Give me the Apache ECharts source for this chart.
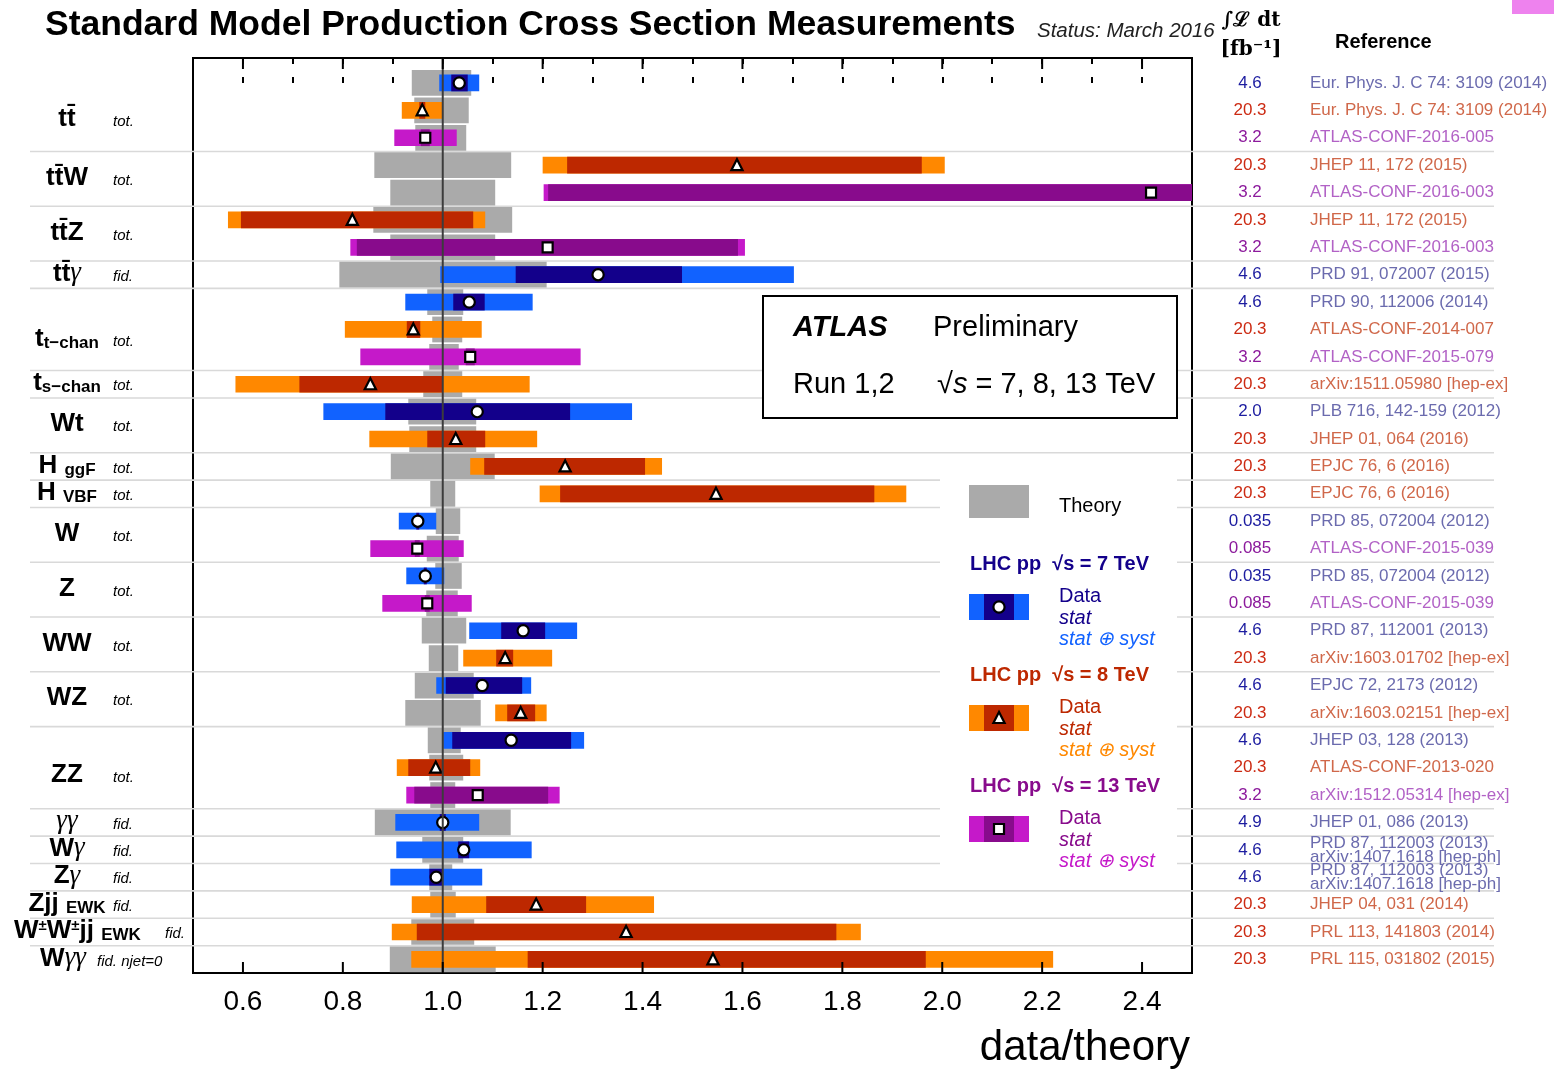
<!DOCTYPE html>
<html><head><meta charset="utf-8">
<script src="https://cdn.jsdelivr.net/npm/echarts@6/dist/echarts.min.js"></script>
<style>html,body{margin:0;padding:0;background:#fff}#c{width:1554px;height:1070px}</style>
</head><body><div id="c"></div>
<script>
// ---------------- DATA ----------------
const rowEnergy = [7,8,13,8,13,8,13,7,7,8,13,8,7,8,8,8,7,13,7,13,7,8,7,8,7,8,13,7,7,7,8,8,8];
const rowCentral = [1.033,0.959,0.965,1.589,2.418,0.819,1.210,1.311,1.053,0.941,1.055,0.855,1.069,1.026,1.245,1.547,0.950,0.949,0.965,0.969,1.161,1.125,1.079,1.156,1.137,0.986,1.070,1.000,1.042,0.987,1.187,1.367,1.541];
const rowTotLo = [0.993,0.918,0.903,1.200,1.202,0.570,0.815,0.995,0.925,0.804,0.835,0.585,0.761,0.853,1.055,1.194,0.912,0.855,0.927,0.879,1.053,1.041,0.987,1.105,1.001,0.908,0.927,0.905,0.907,0.895,0.938,0.898,0.937];
const rowTotHi = [1.073,0.999,1.028,2.005,2.640,1.085,1.605,1.703,1.180,1.078,1.276,1.174,1.379,1.189,1.439,1.928,0.987,1.042,1.003,1.058,1.269,1.219,1.177,1.208,1.283,1.075,1.234,1.073,1.178,1.079,1.423,1.837,2.222];
const rowStatLo = [1.017,0.953,0.956,1.249,1.211,0.596,0.828,1.146,1.021,0.928,1.046,0.713,0.885,0.969,1.083,1.235,0.947,0.944,0.962,0.964,1.117,1.107,1.006,1.129,1.019,0.931,0.943,0.994,1.031,0.973,1.087,0.948,1.170];
const rowStatHi = [1.050,0.965,0.974,1.959,2.600,1.061,1.591,1.479,1.084,0.955,1.064,0.999,1.255,1.085,1.405,1.864,0.953,0.954,0.968,0.974,1.205,1.141,1.159,1.185,1.257,1.055,1.211,1.006,1.053,0.999,1.287,1.788,1.967];
const rowTheoryLo = [0.938,0.943,0.945,0.863,0.895,0.861,0.895,0.793,0.969,0.979,0.973,0.961,0.931,0.933,0.896,0.975,0.986,0.968,0.985,0.967,0.958,0.972,0.944,0.925,0.970,0.973,0.975,0.864,0.959,0.973,0.975,0.937,0.894];
const rowTheoryHi = [1.057,1.052,1.047,1.137,1.105,1.139,1.105,1.208,1.041,1.039,1.032,1.039,1.067,1.067,1.104,1.025,1.035,1.032,1.038,1.030,1.047,1.031,1.062,1.076,1.036,1.041,1.025,1.136,1.041,1.019,1.026,1.063,1.106];
const rowLumi = ['4.6','20.3','3.2','20.3','3.2','20.3','3.2','4.6','4.6','20.3','3.2','20.3','2.0','20.3','20.3','20.3','0.035','0.085','0.035','0.085','4.6','20.3','4.6','20.3','4.6','20.3','3.2','4.9','4.6','4.6','20.3','20.3','20.3'];
const rowRef = ['Eur. Phys. J. C 74: 3109 (2014)','Eur. Phys. J. C 74: 3109 (2014)','ATLAS-CONF-2016-005','JHEP 11, 172 (2015)','ATLAS-CONF-2016-003','JHEP 11, 172 (2015)','ATLAS-CONF-2016-003','PRD 91, 072007 (2015)','PRD 90, 112006 (2014)','ATLAS-CONF-2014-007','ATLAS-CONF-2015-079','arXiv:1511.05980 [hep-ex]','PLB 716, 142-159 (2012)','JHEP 01, 064 (2016)','EPJC 76, 6 (2016)','EPJC 76, 6 (2016)','PRD 85, 072004 (2012)','ATLAS-CONF-2015-039','PRD 85, 072004 (2012)','ATLAS-CONF-2015-039','PRD 87, 112001 (2013)','arXiv:1603.01702 [hep-ex]','EPJC 72, 2173 (2012)','arXiv:1603.02151 [hep-ex]','JHEP 03, 128 (2013)','ATLAS-CONF-2013-020','arXiv:1512.05314 [hep-ex]','JHEP 01, 086 (2013)','PRD 87, 112003 (2013)\narXiv:1407.1618 [hep-ph]','PRD 87, 112003 (2013)\narXiv:1407.1618 [hep-ph]','JHEP 04, 031 (2014)','PRL 113, 141803 (2014)','PRL 115, 031802 (2015)'];

const groupLabel = ['{m|tt\u0304}','{m|tt\u0304W}','{m|tt\u0304Z}','{m|tt\u0304}{g|γ}','{m|t}{s|t\u2212chan}','{m|t}{s|s\u2212chan}','{m|Wt}','{m|H }{s|ggF}','{m|H }{s|VBF}','{m|W}','{m|Z}','{m|WW}','{m|WZ}','{m|ZZ}','{g|γγ}','{m|W}{g|γ}','{m|Z}{g|γ}','{m|Zjj }{s|EWK}','{m|W}{p|±}{m|W}{p|±}{m|jj }{s|EWK}','{m|W}{g|γγ}'];
const groupQualifier = ['tot.','tot.','tot.','fid.','tot.','tot.','tot.','tot.','tot.','tot.','tot.','tot.','tot.','tot.','fid.','fid.','fid.','fid.','fid.','fid. njet=0'];
const groupFirst = [0,3,5,7,8,11,12,14,15,16,18,20,22,24,27,28,29,30,31,32];
const groupLast  = [2,4,6,7,10,11,13,14,15,17,19,21,23,26,27,28,29,30,31,32];

const xTickValues = [0.6,0.8,1.0,1.2,1.4,1.6,1.8,2.0,2.2,2.4];

// ---------------- STYLE / LAYOUT ----------------
const FONT = 'Liberation Sans, Arial, Helvetica, sans-serif';
const COL = {
  7:  {outer:'#1162ff', inner:'#13008b', lumi:'#1c1ca0', ref:'#6b6bae', head:'#13008b'},
  8:  {outer:'#ff8800', inner:'#bd2800', lumi:'#cc2a12', ref:'#d0684a', head:'#bd2800'},
  13: {outer:'#c519c9', inner:'#880b8c', lumi:'#8c1a9c', ref:'#b262c6', head:'#880b8c'}
};
const LABEL_NUDGE = {0:8, 4:9, 13:7};
const LABEL_LEFT = {18:14};
const LABEL_CENTER_X = {19:63};
const QUAL_X = {18:165, 19:97};

function marker(e, cx, cy) {
  const st = {fill:'#fff', stroke:'#000', lineWidth:2.2};
  if (e === 7) return {type:'circle', shape:{cx, cy, r:5.6}, style:st};
  if (e === 8) return {type:'polygon', shape:{points:[[cx, cy-6],[cx-5.6, cy+5],[cx+5.6, cy+5]]}, style:st};
  return {type:'rect', shape:{x:cx-5, y:cy-5, width:10, height:10}, style:st};
}

const rowIdx = rowEnergy.map((e,i)=>[rowCentral[i], i]);
const sepRows = groupLast.slice(0, -1).map(r => [1, r + 0.5]);
const groupData = groupFirst.map((f,g)=>[1, (f + groupLast[g]) / 2]);

const chart = echarts.init(document.getElementById('c'), null, {renderer:'canvas'});

const xAxisBase = {
  type:'value', min:0.5, max:2.5, interval:0.1, gridIndex:0,
  axisLine:{show:false}, splitLine:{show:false},
  axisTick:{show:true, inside:true, length:6, lineStyle:{color:'#000', width:2}}
};

const option = {
  animation:false,
  backgroundColor:'#fff',
  grid:{left:193, right:362, top:58, bottom:97, show:true, borderColor:'#000', borderWidth:2, backgroundColor:'transparent'},
  xAxis:[
    Object.assign({}, xAxisBase, {position:'bottom',
      axisLabel:{show:true, margin:15, fontSize:28, color:'#000', fontFamily:FONT,
        formatter:v=>{const t=Math.round(v*10); return (t%2===0 && t>5 && t<25) ? (t/10).toFixed(1) : '';}}}),
    Object.assign({}, xAxisBase, {position:'top', axisLabel:{show:false}})
  ],
  yAxis:{type:'value', min:-0.912, max:32.497, inverse:true, show:false},
  series:[
    { // separator lines
      type:'custom', z:1, clip:false, silent:true,
      data:sepRows, encode:{x:0, y:1},
      renderItem:(params, api)=>{
        const y = api.coord([1, api.value(1)])[1];
        return {type:'line', shape:{x1:30, y1:y, x2:1494, y2:y}, style:{stroke:'#d9d9d9', lineWidth:1.6}};
      }
    },
    { // theory bands
      type:'custom', z:2, clip:true, silent:true,
      data:rowIdx, encode:{x:0, y:1},
      renderItem:(params, api)=>{
        const i = params.dataIndex;
        const y = api.coord([1, i])[1];
        const h = api.size([0, 0.94])[1];
        const x0 = api.coord([rowTheoryLo[i], i])[0], x1 = api.coord([rowTheoryHi[i], i])[0];
        return {type:'rect', shape:{x:x0, y:y-h/2, width:x1-x0, height:h}, style:{fill:'#aaaaaa'}};
      }
    },
    { // data bars + markers
      type:'custom', z:3, clip:true, silent:true,
      data:rowIdx, encode:{x:0, y:1},
      renderItem:(params, api)=>{
        const i = params.dataIndex;
        const e = rowEnergy[i];
        const c = COL[e];
        const y = api.coord([1, i])[1];
        const h = api.size([0, 0.61])[1];
        const rect = (lo, hi, fill) => {
          const x0 = api.coord([lo, i])[0], x1 = api.coord([hi, i])[0];
          return {type:'rect', shape:{x:x0, y:y-h/2, width:x1-x0, height:h}, style:{fill}};
        };
        return {type:'group', children:[
          rect(rowTotLo[i], rowTotHi[i], c.outer),
          rect(rowStatLo[i], rowStatHi[i], c.inner),
          marker(e, api.coord([rowCentral[i], i])[0], y)
        ]};
      }
    },
    { // unity line
      type:'custom', z:5, clip:false, silent:true,
      data:[[1, 0]], encode:{x:0, y:1},
      renderItem:(params, api)=>{
        const cs = params.coordSys;
        const x = api.coord([api.value(0), 0])[0];
        return {type:'line', shape:{x1:x, y1:cs.y, x2:x, y2:cs.y+cs.height}, style:{stroke:'#3c3c3c', lineWidth:2}};
      }
    },
    { // major ticks
      type:'custom', z:5, clip:false, silent:true,
      data:xTickValues.map(v=>[v, 0]), encode:{x:0, y:1},
      renderItem:(params, api)=>{
        const cs = params.coordSys;
        const x = api.coord([api.value(0), 0])[0];
        return {type:'group', children:[
          {type:'line', shape:{x1:x, y1:cs.y, x2:x, y2:cs.y+11}, style:{stroke:'#000', lineWidth:2}},
          {type:'line', shape:{x1:x, y1:cs.y+cs.height, x2:x, y2:cs.y+cs.height-11}, style:{stroke:'#000', lineWidth:2}}
        ]};
      }
    },
    { // right texts
      type:'custom', z:3, clip:false, silent:true,
      data:rowIdx, encode:{x:0, y:1},
      renderItem:(params, api)=>{
        const i = params.dataIndex;
        const c = COL[rowEnergy[i]];
        const y = api.coord([1, i])[1];
        return {type:'group', children:[
          {type:'text', x:1250, y, style:{text:rowLumi[i], fill:c.lumi, fontSize:17, fontFamily:FONT, align:'center', verticalAlign:'middle'}},
          {type:'text', x:1310, y, style:{text:rowRef[i], fill:c.ref, fontSize:17, fontFamily:FONT, align:'left', verticalAlign:'middle', lineHeight:14}}
        ]};
      }
    },
    { // left labels
      type:'custom', z:3, clip:false, silent:true,
      data:groupData, encode:{x:0, y:1},
      renderItem:(params, api)=>{
        const g = params.dataIndex;
        const y = api.coord([1, api.value(1)])[1] + (LABEL_NUDGE[g] !== undefined ? LABEL_NUDGE[g] : -1);
        const left = LABEL_LEFT[g] !== undefined;
        const lx = left ? LABEL_LEFT[g] : (LABEL_CENTER_X[g] || 67);
        const qx = QUAL_X[g] || 113;
        return {type:'group', children:[
          {type:'text', x:lx, y, style:{text:groupLabel[g], align:left?'left':'center', verticalAlign:'middle',
            rich:{
              m:{fontFamily:FONT, fontWeight:'bold', fontSize:26, lineHeight:26, verticalAlign:'bottom', fill:'#000'},
              s:{fontFamily:FONT, fontWeight:'bold', fontSize:17, lineHeight:18, verticalAlign:'bottom', fill:'#000'},
              g:{fontFamily:'Liberation Serif, serif', fontStyle:'italic', fontSize:27, lineHeight:26, verticalAlign:'bottom', fill:'#000'},
              p:{fontFamily:FONT, fontWeight:'bold', fontSize:15, lineHeight:15, verticalAlign:'top', fill:'#000'}
            }}},
          {type:'text', x:qx, y:y+3, style:{text:groupQualifier[g], fill:'#000', fontSize:15, fontStyle:'italic', fontFamily:FONT, align:'left', verticalAlign:'middle'}}
        ]};
      }
    }
  ],
  graphic:{elements:[
    {type:'rect', z:100, shape:{x:1512, y:0, width:42, height:14}, style:{fill:'#ee82ee'}},
    {type:'text', z:100, x:45, y:25, style:{text:'Standard Model Production Cross Section Measurements', fontFamily:FONT, fontWeight:'bold', fontSize:35.5, fill:'#000', verticalAlign:'middle'}},
    {type:'text', z:100, x:1037, y:31, style:{text:'Status: March 2016', fontFamily:FONT, fontStyle:'italic', fontSize:20.5, fill:'#222', verticalAlign:'middle'}},
    {type:'text', z:100, x:1251, y:21, style:{text:'∫ℒ dt', fontFamily:'DejaVu Serif, serif', fontWeight:'bold', fontSize:20, fill:'#000', align:'center', verticalAlign:'middle'}},
    {type:'text', z:100, x:1251, y:50, style:{text:'[fb⁻¹]', fontFamily:'DejaVu Serif, serif', fontWeight:'bold', fontSize:20, fill:'#000', align:'center', verticalAlign:'middle'}},
    {type:'text', z:100, x:1335, y:42, style:{text:'Reference', fontFamily:FONT, fontWeight:'bold', fontSize:20, fill:'#000', verticalAlign:'middle'}},
    {type:'text', z:100, x:1190, y:1048, style:{text:'data/theory', fontFamily:FONT, fontSize:42, fill:'#000', align:'right', verticalAlign:'middle'}},
    // ATLAS box
    {type:'rect', z:100, shape:{x:763, y:296, width:414, height:122}, style:{fill:'#fff', stroke:'#000', lineWidth:2}},
    {type:'text', z:101, x:793, y:328, style:{text:'ATLAS', fontFamily:FONT, fontWeight:'bold', fontStyle:'italic', fontSize:29, fill:'#000', verticalAlign:'middle'}},
    {type:'text', z:101, x:933, y:328, style:{text:'Preliminary', fontFamily:FONT, fontSize:29, fill:'#000', verticalAlign:'middle'}},
    {type:'text', z:101, x:793, y:385, style:{text:'Run 1,2', fontFamily:FONT, fontSize:29, fill:'#000', verticalAlign:'middle'}},
    {type:'text', z:101, x:937, y:385, style:{text:'{n|√}{i|s}{n| = 7, 8, 13 TeV}', verticalAlign:'middle',
      rich:{n:{fontFamily:FONT, fontSize:29, fill:'#000'}, i:{fontFamily:FONT, fontStyle:'italic', fontSize:29, fill:'#000'}}}},
    // legend background
    {type:'rect', z:100, shape:{x:940, y:462, width:237, height:414}, style:{fill:'#fff'}},
    {type:'rect', z:101, shape:{x:969, y:485, width:60, height:33}, style:{fill:'#aaaaaa'}},
    {type:'text', z:101, x:1059, y:506, style:{text:'Theory', fontFamily:FONT, fontSize:20, fill:'#000', verticalAlign:'middle'}}
  ].concat(...[7,8,13].map((e,k)=>{
    const c = COL[e], dy = k*111;
    const st = {fill:'#fff', stroke:'#000', lineWidth:2.2};
    let mk;
    if (e===7) mk = {type:'circle', z:102, shape:{cx:999, cy:607+dy, r:5.6}, style:st};
    else if (e===8) mk = {type:'polygon', z:102, shape:{points:[[999,601+dy],[993.4,612+dy],[1004.6,612+dy]]}, style:st};
    else mk = {type:'rect', z:102, shape:{x:994, y:602+dy, width:10, height:10}, style:st};
    return [
      {type:'text', z:101, x:970, y:564+dy, style:{text:'LHC pp  √s = '+e+' TeV', fontFamily:FONT, fontWeight:'bold', fontSize:20, fill:c.head, verticalAlign:'middle'}},
      {type:'rect', z:101, shape:{x:969, y:594+dy, width:60, height:26}, style:{fill:c.outer}},
      {type:'rect', z:101, shape:{x:984, y:594+dy, width:30, height:26}, style:{fill:c.inner}},
      mk,
      {type:'text', z:101, x:1059, y:596+dy, style:{text:'Data', fontFamily:FONT, fontSize:20, fill:c.inner, verticalAlign:'middle'}},
      {type:'text', z:101, x:1059, y:618+dy, style:{text:'stat', fontFamily:FONT, fontStyle:'italic', fontSize:20, fill:c.inner, verticalAlign:'middle'}},
      {type:'text', z:101, x:1059, y:639+dy, style:{text:'stat ⊕ syst', fontFamily:FONT, fontStyle:'italic', fontSize:20, fill:c.outer, verticalAlign:'middle'}}
    ];
  }))}
};
chart.setOption(option);
</script>
</body></html>
